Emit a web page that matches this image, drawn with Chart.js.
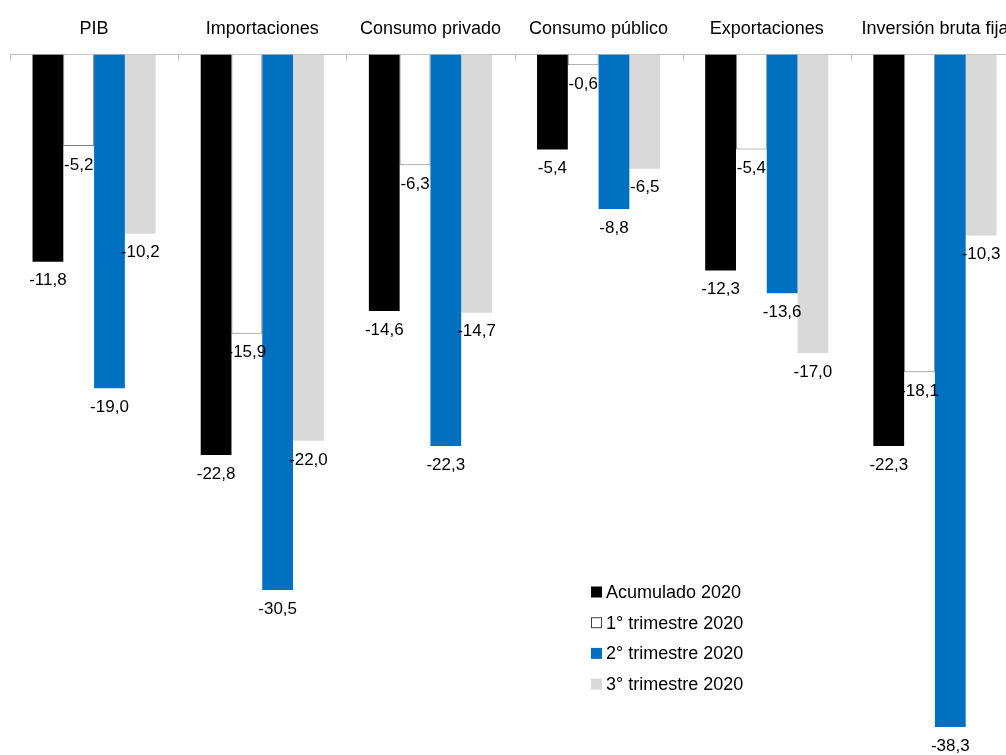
<!DOCTYPE html>
<html>
<head>
<meta charset="utf-8">
<script src="https://cdn.jsdelivr.net/npm/chart.js@4/dist/chart.umd.min.js"></script>
<style>
  html, body { margin: 0; padding: 0; background: #fff; overflow: hidden; }
  #wrap { width: 1030px; height: 755px; }
</style>
</head>
<body>
<div id="wrap"><canvas id="myChart"></canvas></div>
<script>
const categories = ["PIB", "Importaciones", "Consumo privado", "Consumo público", "Exportaciones", "Inversión bruta fija"];
const seriesNames = ["Acumulado 2020", "1° trimestre 2020", "2° trimestre 2020", "3° trimestre 2020"];
const acumulado = [-11.8, -22.8, -14.6, -5.4, -12.3, -22.3];
const trim1 = [-5.2, -15.9, -6.3, -0.6, -5.4, -18.1];
const trim2 = [-19.0, -30.5, -22.3, -8.8, -13.6, -38.3];
const trim3 = [-10.2, -22.0, -14.7, -6.5, -17.0, -10.3];

const FONT = "'Liberation Sans Narrow', 'Arial Narrow', 'Liberation Sans', Arial, sans-serif";

// value labels under the end of each bar
const barLabels = {
  id: "barLabels",
  afterDatasetsDraw(chart) {
    const ctx = chart.ctx;
    ctx.save();
    ctx.font = "17px " + FONT;
    ctx.fillStyle = "#000";
    ctx.textAlign = "center";
    ctx.textBaseline = "middle";
    chart.data.datasets.forEach(function (ds, i) {
      chart.getDatasetMeta(i).data.forEach(function (bar, j) {
        const txt = ds.data[j].toFixed(1).replace(".", ",");
        ctx.fillText(txt, bar.x, bar.y + 19);
      });
    });
    ctx.restore();
  }
};

// small tick marks between categories + legend inside the plot
const extras = {
  id: "extras",
  afterDraw(chart) {
    const ctx = chart.ctx;
    const xs = chart.scales.x;
    const area = chart.chartArea;
    ctx.save();
    ctx.strokeStyle = "#bfbfbf";
    ctx.lineWidth = 1;
    const step = xs.getPixelForValue(1) - xs.getPixelForValue(0);
    for (let i = 0; i < categories.length; i++) {
      const x = Math.round(xs.getPixelForValue(i) - step / 2) + 0.5;
      ctx.beginPath();
      ctx.moveTo(x, area.top);
      ctx.lineTo(x, area.top + 6);
      ctx.stroke();
    }
    // legend
    const lx = 591, ly = 592, gap = 30.7;
    ctx.font = "18px " + FONT;
    ctx.textBaseline = "middle";
    ctx.textAlign = "left";
    chart.data.datasets.forEach(function (ds, i) {
      const y = ly + i * gap;
      ctx.fillStyle = ds.backgroundColor;
      ctx.fillRect(lx, y - 5.5, 11, 11);
      if (ds.borderWidth) {
        ctx.strokeStyle = "#404040";
        ctx.strokeRect(lx + 0.5, y - 5, 10, 10);
      }
      ctx.fillStyle = "#000";
      ctx.fillText(ds.label, lx + 15, y + 1);
    });
    ctx.restore();
  }
};

const ctx_bar = document.getElementById("myChart").getContext("2d");
new Chart(ctx_bar, {
  type: "bar",
  data: {
    labels: categories,
    datasets: [
      { label: seriesNames[0], data: acumulado, backgroundColor: "#000000", borderWidth: 0 },
      { label: seriesNames[1], data: trim1, backgroundColor: "#ffffff", borderColor: "#7f7f7f", borderWidth: 1 },
      { label: seriesNames[2], data: trim2, backgroundColor: "#0070c0", borderWidth: 0 },
      { label: seriesNames[3], data: trim3, backgroundColor: "#d9d9d9", borderWidth: 0 },
    ],
  },
  options: {
    responsive: true,
    maintainAspectRatio: false,
    animation: false,
    layout: { padding: { left: 10, right: 11, top: 3, bottom: 28 } },
    datasets: { bar: { categoryPercentage: 0.732, barPercentage: 1.0 } },
    plugins: {
      legend: { display: false },
      tooltip: { enabled: false },
    },
    scales: {
      x: {
        position: "top",
        grid: { display: false, drawTicks: false },
        border: { display: true, color: "#bfbfbf", width: 1 },
        ticks: { color: "#000", font: { family: FONT, size: 18 }, padding: 15, maxRotation: 0, autoSkip: false },
      },
      y: {
        display: false,
        min: -38.3,
        max: 0,
      },
    },
  },
  plugins: [barLabels, extras],
});
</script>
</body>
</html>
